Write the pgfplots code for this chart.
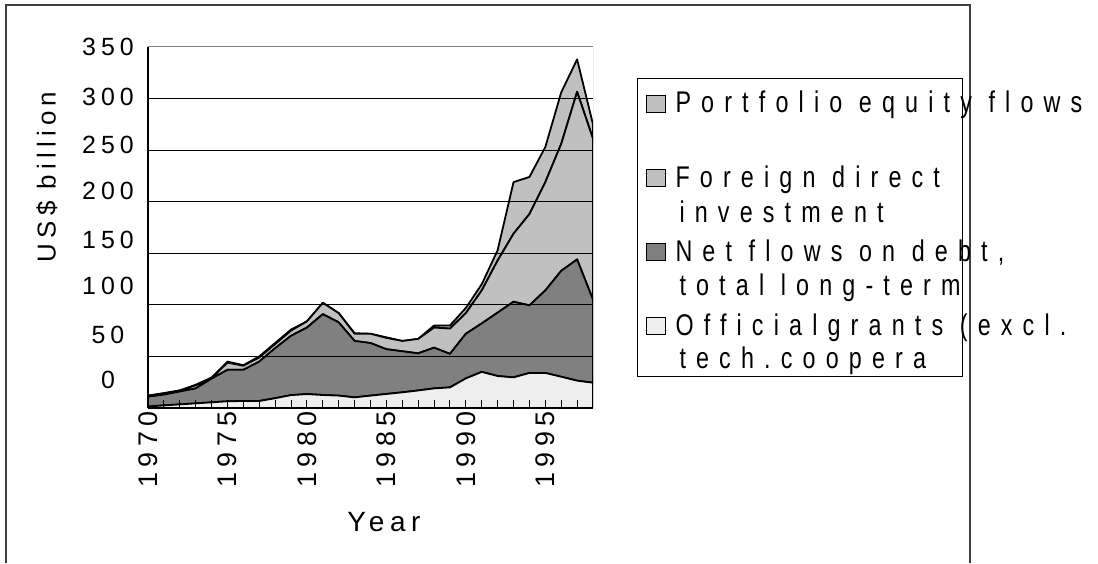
\documentclass[border=0pt]{standalone}
\usepackage{pgfplots}
\usepackage{pgfplotstable}
\pgfplotsset{compat=1.18}
\usetikzlibrary{calc}
\usepackage{fontspec}
\setmainfont{Liberation Sans}[LetterSpace=20]
\newfontfamily\legfont{Liberation Sans}[LetterSpace=34,FakeStretch=0.78]

\definecolor{grantgray}{RGB}{238,238,238}
\definecolor{debtgray}{RGB}{128,128,128}
\definecolor{fdigray}{RGB}{192,192,192}
\definecolor{equitygray}{RGB}{192,192,192}

% US$ billion, per layer (stacked from the bottom)
\pgfplotstableread{
year grants debt fdi equity
1970 1.5 9.5 1.0 0.0
1971 2.5 10.5 1.0 0.5
1972 3.5 12.5 1.0 0.0
1973 4.5 14.5 3.0 0.5
1974 5.5 23.0 0.5 0.5
1975 6.5 30.5 7.0 1.0
1976 6.8 30.2 4.0 0.5
1977 6.8 38.2 4.0 1.0
1978 9.5 48.5 4.0 1.0
1979 12.5 57.5 5.0 1.0
1980 13.5 64.5 6.0 0.0
1981 12.6 78.4 11.0 0.0
1982 12.0 71.0 9.0 0.0
1983 10.3 54.7 7.0 0.5
1984 12.0 51.0 9.0 0.0
1985 13.6 43.4 11.0 0.5
1986 15.2 39.8 10.0 0.0
1987 17.0 36.0 14.0 0.0
1988 19.0 39.5 19.5 2.0
1989 20.0 32.5 24.5 3.0
1990 28.7 43.3 20.0 5.0
1991 35.0 47.0 32.0 6.0
1992 31.0 61.5 50.5 10.0
1993 29.7 73.3 66.0 50.0
1994 34.0 65.5 88.5 36.0
1995 34.0 80.0 105.0 34.0
1996 30.3 102.7 123.0 50.0
1997 26.5 117.5 162.5 31.5
1998 24.5 80.5 156.0 14.0
}\flows

\begin{document}
\begin{tikzpicture}
  \path (0bp,0bp) rectangle (1098bp,563bp);
  \draw[black!75, line width=1.3bp] (6bp,0bp) -- (6bp,558bp) -- (970bp,558bp) -- (970bp,0bp);

  \begin{axis}[
    name=main,
    axis on top,
    at={(148bp,155bp)}, anchor=south west,
    scale only axis,
    width=445bp, height=361bp,
    xmin=1970, xmax=1998,
    ymin=0, ymax=350,
    axis x line*=bottom, axis y line*=left,
    axis line style={black, line width=1.2bp},
    stack plots=y,
    tick align=inside,
    major tick length=8bp, minor tick length=8bp,
    xtick={1970,1975,...,1995},
    minor xtick={1970,...,1998},
    xticklabels={1970,1975,1980,1985,1990,1995},
    every tick/.style={black, line width=1bp},
    xticklabel style={rotate=90, anchor=east, font=\fontsize{27}{30}\selectfont},
    % labels sit where the source drew them, slightly off the grid lines
    ytick={27.1,70.7,118.2,162.8,210.3,254.8,301.4,349.6},
    yticklabels={0,50,100,150,200,250,300,350},
    ytick style={draw=none},
    yticklabel style={anchor=center, xshift=-40bp, font=\fontsize{25}{30}\selectfont},
    ylabel={US\$ billion},
    ylabel style={at={(axis description cs:-0.227,0.64)}, anchor=center,
      font=\fontsize{26}{30}\selectfont},
    xlabel={Year},
    xlabel style={at={(axis description cs:0.53,-0.316)}, anchor=center,
      font=\fontsize{28}{30}\selectfont},
    every axis plot/.append style={draw=black, line width=1.8bp, line join=round},
  ]
    % plot-area border and horizontal grid, behind the areas
    \draw[black!50, line width=1bp] (rel axis cs:0,1) -- (rel axis cs:1,1) -- (rel axis cs:1,0);
    \pgfplotsinvokeforeach{50,100,150,200,250,300}{
      \draw[black, line width=1bp] (axis cs:1970,#1) -- (axis cs:1998,#1);
    }
    \addplot[fill=grantgray] table[x=year, y=grants] {\flows} \closedcycle;
    \addplot[fill=debtgray] table[x=year, y=debt] {\flows} \closedcycle;
    \addplot[fill=fdigray] table[x=year, y=fdi] {\flows} \closedcycle;
    \addplot[fill=equitygray] table[x=year, y=equity] {\flows} \closedcycle;
  \end{axis}

  % yearly tick marks, drawn over the bottom band
  \foreach \k in {1,...,27} {
    \draw[black, line width=1bp]
      ($(main.south west)!\k/28!(main.south east)$) -- ++(0bp,8bp);
  }

  % legend
  \begin{scope}[x=1bp, y=1bp, line width=1bp]
    \draw (637,186) rectangle (962,484);
    \tikzset{lt/.style={anchor=base west, inner sep=0pt, font=\legfont\fontsize{30}{35}\selectfont}}
    \filldraw[fill=equitygray] (646,450) rectangle (665,467);
    \node[lt] at (675,450) {Portfolio equity flows};
    \filldraw[fill=fdigray] (646,376) rectangle (665,393);
    \node[lt] at (675,376) {Foreign direct};
    \node[lt] at (679,341) {investment};
    \filldraw[fill=debtgray] (646,302) rectangle (665,319);
    \node[lt] at (675,302) {Net flows on debt,};
    \node[lt] at (679,268) {total long-term};
    \filldraw[fill=grantgray] (646,228) rectangle (665,245);
    \node[lt] at (675,228) {Officialgrants (excl.};
    \node[lt] at (679,195) {tech.coopera};
  \end{scope}
\end{tikzpicture}
\end{document}
